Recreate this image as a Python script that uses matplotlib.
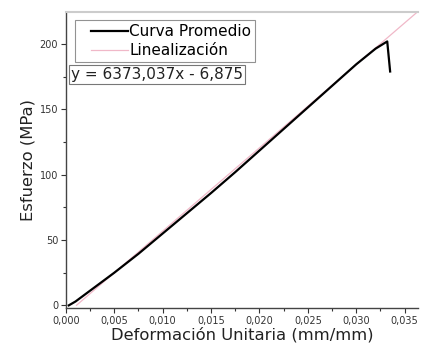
import numpy as np
import matplotlib.pyplot as plt
from matplotlib.ticker import MultipleLocator, FuncFormatter
from matplotlib.legend_handler import HandlerLine2D

plt.rcParams['font.family'] = ['DejaVu Sans']

# curva promedio (esfuerzo-deformacion)
deformacion = [0.0003, 0.001, 0.002, 0.003, 0.004, 0.005, 0.0075, 0.010, 0.0125,
               0.015, 0.0175, 0.020, 0.0225, 0.025, 0.0275, 0.030, 0.032, 0.0332, 0.0335]
esfuerzo = [0, 3, 8.5, 14, 19.5, 25, 39.5, 55, 70.5,
            86, 102, 118.5, 135, 151.5, 168, 184.5, 196.5, 202, 179]

# linealizacion y = 6373,037x - 6,875
lin_x = [0.0011, 0.0364]
lin_y = [0.1, 225.1]
ecuacion = "y = 6373,037x - 6,875"


class LineaCorrida(HandlerLine2D):
    # deja un hueco a la izquierda de la muestra, como en Origin
    def get_xdata(self, legend, xdescent, ydescent, width, height, fontsize):
        xd = np.array([-xdescent + 0.25 * width, -xdescent + width])
        return xd, xd


fig = plt.figure(figsize=(4.25, 3.49), dpi=100)
ax = fig.add_axes([0.155, 0.1175, 0.829, 0.848])

ax.plot(lin_x, lin_y, color='#f0b8c8', lw=0.9, label='Linealización', zorder=2)
ax.plot(deformacion, esfuerzo, color='black', lw=1.6, label='Curva Promedio', zorder=3)

ax.set_xlim(0, 0.0364)
ax.set_ylim(-2, 224.5)
ax.xaxis.set_major_locator(MultipleLocator(0.005))
ax.xaxis.set_minor_locator(MultipleLocator(0.0025))
ax.yaxis.set_major_locator(MultipleLocator(50))
ax.yaxis.set_minor_locator(MultipleLocator(25))
ax.xaxis.set_major_formatter(FuncFormatter(lambda v, p: f"{v:.3f}".replace('.', ',')))
ax.tick_params(which='both', direction='out', labelsize=7, colors='#333333', width=0.8)
ax.tick_params(which='major', length=3.5, pad=2)
ax.tick_params(which='minor', length=2)

for s in ['left', 'bottom']:
    ax.spines[s].set_color('#444444')
    ax.spines[s].set_linewidth(1.0)
ax.spines['top'].set_color('#cccccc')
ax.spines['top'].set_linewidth(1.5)
ax.spines['right'].set_visible(False)

ax.set_xlabel('Deformación Unitaria (mm/mm)', fontsize=11.8, labelpad=1, color='#222222')
ax.set_ylabel('Esfuerzo (MPa)', fontsize=11.8, labelpad=3, color='#222222')

h, l = ax.get_legend_handles_labels()
leg = ax.legend(h[::-1], l[::-1], loc='upper left', bbox_to_anchor=(0.026, 0.973),
                fontsize=11, frameon=True, fancybox=False, borderpad=0.25,
                handlelength=3.2, handletextpad=0.1, labelspacing=0.3, borderaxespad=0,
                handler_map={h[0]: LineaCorrida(), h[1]: LineaCorrida()})
leg.get_frame().set_edgecolor('#777777')
leg.get_frame().set_linewidth(0.8)

ax.text(0.014, 0.788, ecuacion, transform=ax.transAxes, fontsize=11, va='center', ha='left',
        color='#222222',
        bbox=dict(boxstyle='square,pad=0.12', fc='white', ec='#777777', lw=0.8))

fig.savefig('out.png', dpi=100)
